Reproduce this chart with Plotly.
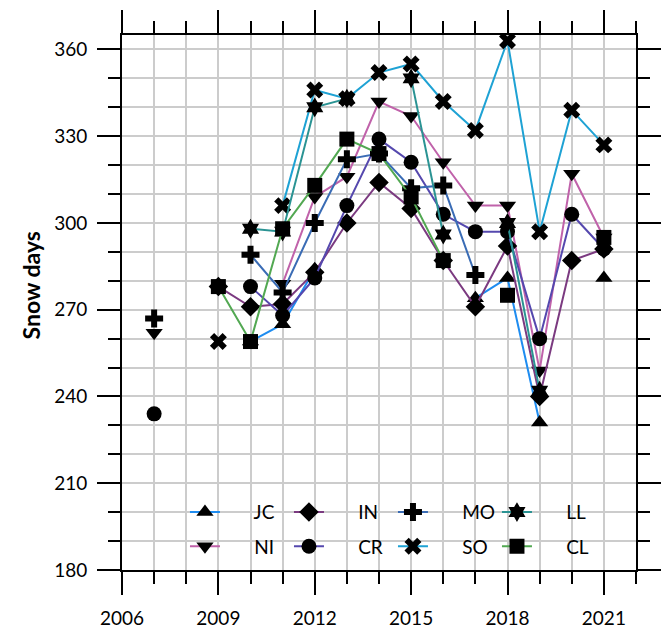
import plotly.graph_objects as go

# Snow-cover days per year at eight stations
years = list(range(2007, 2022))

JC = [None, None, None, 259, 265, 284, None, None, None, None, 274, 281, 231, None, 281]
NI = [262, None, None, None, 279, 309, 316, 342, 337, 321, 306, 306, 249, 317, 295]
IN = [None, None, 278, 271, 272, 283, 300, 314, 305, 287, 271, 292, 240, 287, 291]
CR = [234, None, None, 278, 268, 281, 306, 329, 321, 303, 297, 297, 260, 303, 291]
MO = [267, None, None, 289, 276, 300, 322, 324, 312, 313, 282, None, None, None, None]
SO = [None, None, 259, None, 306, 346, 343, 352, 355, 342, 332, 363, 297, 339, 327]
LL = [None, None, None, 298, 297, 340, 343, None, 350, 296, None, 300, 242, None, None]
CL = [None, None, 278, 259, 298, 313, 329, 324, 309, 287, None, 275, None, None, 295]

x_ticks = [2006, 2009, 2012, 2015, 2018, 2021]
y_ticks = [180, 210, 240, 270, 300, 330, 360]

# name, values, line colour, marker symbol, legend row
series = [
    ("JC", JC, "#1e8cf0", "triangle-up", "legend"),
    ("NI", NI, "#c062aa", "triangle-down", "legend2"),
    ("IN", IN, "#7b3a80", "diamond", "legend"),
    ("CR", CR, "#5548ae", "circle", "legend2"),
    ("MO", MO, "#3a6cb5", "cross", "legend"),
    ("SO", SO, "#1ea2d4", "x", "legend2"),
    ("LL", LL, "#2a9393", "hexagram", "legend"),
    ("CL", CL, "#52a852", "square", "legend2"),
]

FONT = "Lato"
pad = "\u00a0" * 6

fig = go.Figure()
for name, vals, color, sym, leg in series:
    fig.add_trace(go.Scatter(
        x=years, y=vals, name=pad + name, mode="lines+markers",
        line=dict(color=color, width=2),
        marker=dict(symbol=sym, size=15, color="black",
                    line=dict(width=0)),
        legend=leg, connectgaps=False,
    ))

grid = "#cccccc"
axis_common = dict(
    showline=True, linecolor="black", linewidth=2,
    mirror="allticks", ticks="outside", ticklen=23, tickwidth=2,
    tickcolor="black", showgrid=True, gridcolor=grid, gridwidth=2,
    zeroline=False, automargin=False,
    tickfont=dict(family=FONT, size=19, color="black"),
)

fig.update_xaxes(
    range=[2006, 2022], tickvals=x_ticks, ticklabelstandoff=7,
    minor=dict(dtick=1, tick0=2006, ticks="outside", ticklen=12,
               tickwidth=2, tickcolor="black", showgrid=True,
               gridcolor=grid, gridwidth=2),
    **axis_common,
)
fig.update_yaxes(
    range=[180, 365], tickvals=y_ticks, ticklabelstandoff=6,
    minor=dict(dtick=10, tick0=180, ticks="outside", ticklen=12,
               tickwidth=2, tickcolor="black", showgrid=True,
               gridcolor=grid, gridwidth=2),
    **axis_common,
)

# y-axis title
fig.add_annotation(
    text="<b>Snow days</b>", textangle=-90, showarrow=False,
    xref="paper", yref="paper", x=-0.178, y=0.531,
    xanchor="center", yanchor="middle",
    font=dict(family=FONT, size=23, color="black"),
)

legend_common = dict(
    orientation="h", xanchor="left", yanchor="middle", x=0.1225,
    bgcolor="rgba(0,0,0,0)", entrywidth=59, entrywidthmode="pixels",
    font=dict(family=FONT, size=19, color="black"), itemsizing="trace",
)
fig.update_layout(
    width=664, height=633,
    margin=dict(l=122, r=28, t=35, b=63, autoexpand=False),
    paper_bgcolor="white", plot_bgcolor="white",
    showlegend=True,
    legend=dict(y=0.108, **legend_common),
    legend2=dict(y=0.044, **legend_common),
)

fig.write_html("out.html")
